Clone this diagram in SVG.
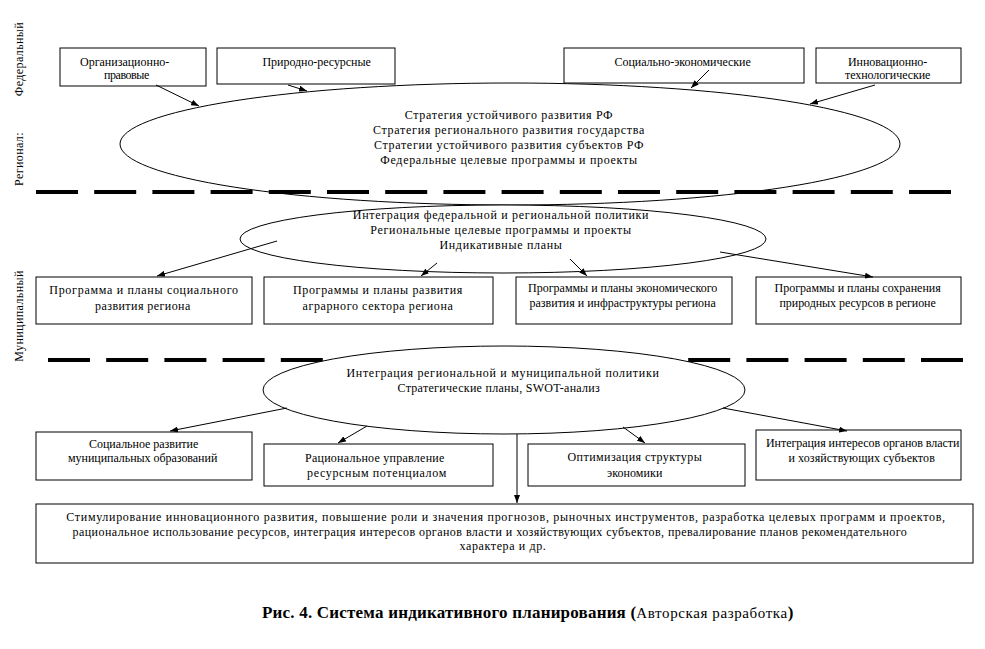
<svg xmlns="http://www.w3.org/2000/svg" width="985" height="649" viewBox="0 0 985 649">
<style>
  text { font-family: "Liberation Serif", "Times New Roman", serif; font-size: 12px; letter-spacing: 0.7px; fill: #000; text-anchor: middle; }
  .box { fill: #fff; stroke: #000; stroke-width: 1; }
  .ell { fill: #fff; stroke: #000; stroke-width: 1; }
  .dash { fill: none; stroke: #000; stroke-width: 4; stroke-dasharray: 42 16.2; }
  .arr { fill: none; stroke: #000; stroke-width: 1; marker-end: url(#ah); }
  .lvl { font-size: 12px; letter-spacing: 0.4px; }
  .cap { font-size: 17px; font-weight: bold; letter-spacing: 0.2px; text-anchor: start; }
  .cap2 { font-size: 15px; font-weight: normal; letter-spacing: 0.6px; }
</style>
<defs>
  <marker id="ah" viewBox="0 0 8 6" refX="8" refY="3" markerWidth="8" markerHeight="6" markerUnits="userSpaceOnUse" orient="auto">
    <path d="M0,0 L8,3 L0,6 z" fill="#000"/>
  </marker>
</defs>
<rect width="985" height="649" fill="#fff"/>

<g id="levels">
  <text class="lvl" transform="translate(23,59) rotate(-90)">Федеральный</text>
  <text class="lvl" transform="translate(23,159) rotate(-90)">Регионал:</text>
  <text class="lvl" transform="translate(23,316) rotate(-90)">Муниципальный</text>
</g>

<g id="n-org">
  <rect class="box" x="60" y="48" width="146" height="38"/>
  <text x="125" y="66" textLength="90" lengthAdjust="spacing">Организационно-</text>
  <text x="127" y="79" textLength="46" lengthAdjust="spacing">правовые</text>
</g>
<g id="n-prir">
  <rect class="box" x="217" y="48" width="178" height="36"/>
  <text x="317" y="66" textLength="109" lengthAdjust="spacing">Природно-ресурсные</text>
</g>
<g id="n-soc">
  <rect class="box" x="564" y="48" width="240" height="35"/>
  <text x="683" y="66" textLength="137" lengthAdjust="spacing">Социально-экономические</text>
</g>
<g id="n-innov">
  <rect class="box" x="816" y="48" width="145" height="35"/>
  <text x="888" y="66" textLength="80" lengthAdjust="spacing">Инновационно-</text>
  <text x="888" y="79" textLength="86" lengthAdjust="spacing">технологические</text>
</g>

<g id="n-strat">
  <ellipse class="ell" cx="510" cy="144" rx="390" ry="61"/>
  <text x="509" y="119">Стратегия устойчивого развития РФ</text>
  <text x="509" y="134">Стратегия регионального развития государства</text>
  <text x="509" y="149">Стратегии устойчивого развития субъектов РФ</text>
  <text x="509" y="164">Федеральные целевые программы и проекты</text>
</g>

<g id="n-integ1">
  <ellipse class="ell" cx="503" cy="239" rx="263" ry="34"/>
  <text x="501" y="219">Интеграция федеральной и региональной политики</text>
  <text x="501" y="234">Региональные целевые программы и проекты</text>
  <text x="501" y="249">Индикативные планы</text>
</g>

<g id="separators">
  <path class="dash" d="M36,192 H951"/>
  <path class="dash" d="M48,360 H963"/>
</g>

<g id="n-integ2">
  <ellipse class="ell" cx="504" cy="390" rx="241" ry="44"/>
  <text x="503" y="377">Интеграция региональной и муниципальной  политики</text>
  <text x="499" y="392" textLength="203" lengthAdjust="spacing">Стратегические планы, SWOT-анализ</text>
</g>

<g id="n-prog-soc">
  <rect class="box" x="36" y="277" width="216" height="47"/>
  <text x="144" y="294">Программа и планы социального</text>
  <text x="143" y="310" textLength="96" lengthAdjust="spacing">развития региона</text>
</g>
<g id="n-prog-agr">
  <rect class="box" x="264" y="277" width="229" height="47"/>
  <text x="378" y="294" textLength="170" lengthAdjust="spacing">Программы и планы развития</text>
  <text x="378" y="310" textLength="151" lengthAdjust="spacing">аграрного сектора региона</text>
</g>
<g id="n-prog-eco">
  <rect class="box" x="516" y="277" width="216" height="47"/>
  <text x="623" y="292" textLength="190" lengthAdjust="spacing">Программы и планы экономического</text>
  <text x="623" y="307" textLength="187" lengthAdjust="spacing">развития и инфраструктуры региона</text>
</g>
<g id="n-prog-nat">
  <rect class="box" x="756" y="277" width="205" height="47"/>
  <text x="858" y="292" textLength="167" lengthAdjust="spacing">Программы и планы сохранения</text>
  <text x="858" y="307" textLength="157" lengthAdjust="spacing">природных ресурсов в регионе</text>
</g>

<g id="n-mun-soc">
  <rect class="box" x="36" y="432" width="216" height="48"/>
  <text x="144" y="448" textLength="110" lengthAdjust="spacing">Социальное развитие</text>
  <text x="143" y="462" textLength="150" lengthAdjust="spacing">муниципальных образований</text>
</g>
<g id="n-res">
  <rect class="box" x="264" y="444" width="229" height="42"/>
  <text x="375" y="462" textLength="140" lengthAdjust="spacing">Рациональное управление</text>
  <text x="377" y="477" textLength="140" lengthAdjust="spacing">ресурсным потенциалом</text>
</g>
<g id="n-opt">
  <rect class="box" x="528" y="444" width="217" height="42"/>
  <text x="635" y="461" textLength="135" lengthAdjust="spacing">Оптимизация структуры</text>
  <text x="635" y="477" textLength="56" lengthAdjust="spacing">экономики</text>
</g>
<g id="n-int-int">
  <rect class="box" x="756" y="430" width="205" height="50"/>
  <text x="863" y="447" textLength="194" lengthAdjust="spacing">Интеграция интересов органов власти</text>
  <text x="862" y="462" textLength="147" lengthAdjust="spacing">и хозяйствующих субъектов</text>
</g>

<g id="n-result">
  <rect class="box" x="36" y="504" width="937" height="59"/>
  <text x="506" y="521">Стимулирование инновационного развития, повышение роли и значения прогнозов, рыночных инструментов, разработка целевых программ и проектов,</text>
  <text x="490" y="536" textLength="835" lengthAdjust="spacing">рациональное использование ресурсов,  интеграция интересов органов власти и хозяйствующих  субъектов, превалирование планов рекомендательного</text>
  <text x="503" y="550" textLength="87" lengthAdjust="spacing">характера и др.</text>
</g>

<g id="connectors">
  <line class="arr" x1="156" y1="85" x2="199" y2="106"/>
  <line class="arr" x1="288" y1="85" x2="307" y2="91"/>
  <line class="arr" x1="709" y1="70" x2="691" y2="88"/>
  <line class="arr" x1="875" y1="85" x2="810" y2="104"/>
  <line class="arr" x1="277" y1="241" x2="157" y2="276"/>
  <line class="arr" x1="437" y1="263" x2="421" y2="276"/>
  <line class="arr" x1="570" y1="259" x2="587" y2="276"/>
  <line class="arr" x1="720" y1="252" x2="873" y2="277"/>
  <line class="arr" x1="287" y1="408" x2="170" y2="431"/>
  <line class="arr" x1="367" y1="426" x2="338" y2="443"/>
  <line class="arr" x1="623" y1="427" x2="645" y2="443"/>
  <line class="arr" x1="723" y1="408" x2="847" y2="431"/>
  <line class="arr" x1="517" y1="434" x2="517" y2="503"/>
</g>

<g id="caption">
  <text class="cap" x="262" y="618">Рис. 4. Система индикативного планирования <tspan>(</tspan><tspan class="cap2">Авторская разработка</tspan><tspan>)</tspan></text>
</g>
</svg>
